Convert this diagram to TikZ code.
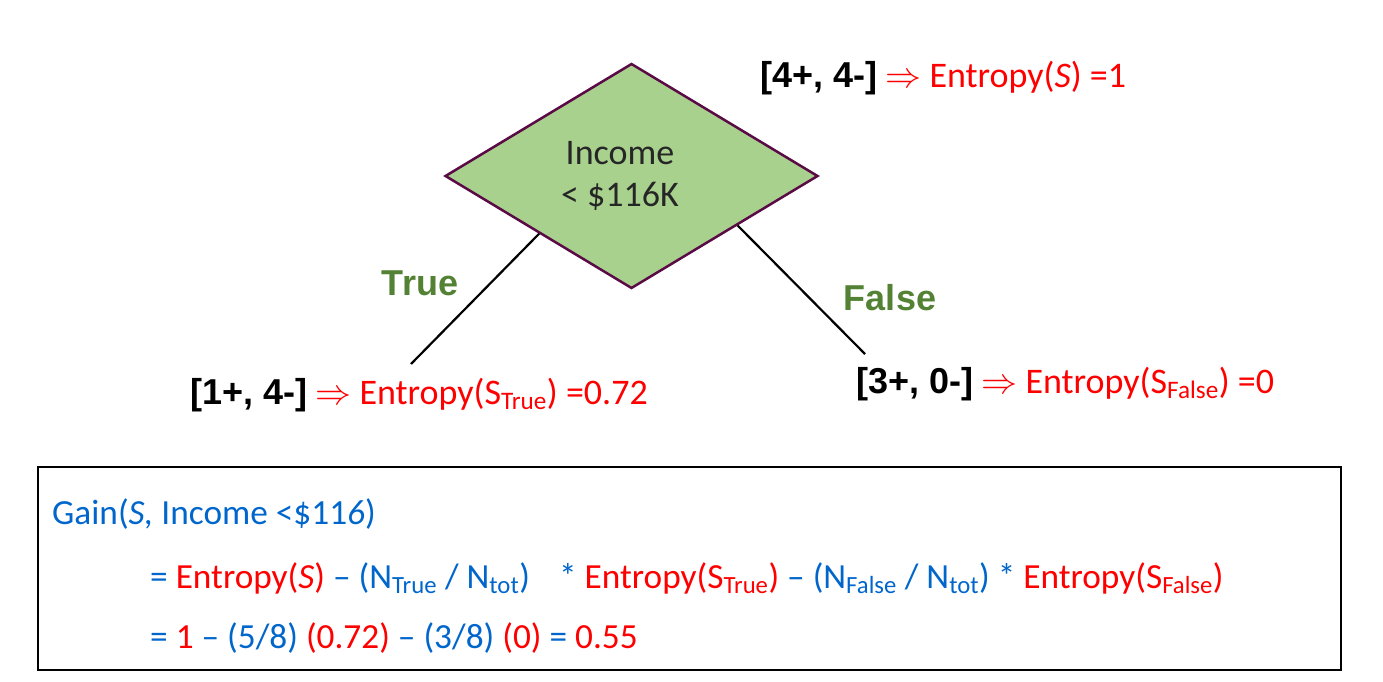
\documentclass[tikz,border=0pt]{standalone}
\usepackage{fix-cm}
\usepackage{fontspec}
\setmainfont{Carlito}
\newfontfamily\arialfont{Liberation Sans}
\usetikzlibrary{shapes.geometric}
\definecolor{diafill}{HTML}{A9D18E}
\definecolor{diaedge}{HTML}{5A0A45}
\definecolor{branchgreen}{HTML}{548235}
\definecolor{formblue}{HTML}{0066CC}
\definecolor{textgray}{HTML}{262626}
\newcommand{\labelsize}{\fontsize{36}{42}\selectfont}
\newcommand{\formsize}{\fontsize{35.3}{42}\selectfont}
\newcommand{\cnt}[1]{{\arialfont\bfseries #1}}
\newcommand{\impl}{\textcolor{red}{$\Rightarrow$}}
\newcommand{\rd}[1]{\textcolor{red}{#1}}
\tikzset{
  label text/.style={anchor=base west, inner sep=0pt, font=\labelsize},
  branch/.style={font=\arialfont\bfseries\labelsize, text=branchgreen, inner sep=0pt},
  formula/.style={anchor=base west, inner sep=0pt, font=\formsize, text=formblue}
}
\begin{document}
\begin{tikzpicture}[x=1pt,y=-1pt]
    \useasboundingbox (0,0) rectangle (1383,682);
    % decision node
    \node[diamond, draw=diaedge, line width=2.5pt, fill=diafill, minimum width=373pt,
          minimum height=225pt, aspect=1.66, inner sep=0pt] (cond) at (631.5,176) {};
    \node[align=center, text=textgray, font=\labelsize, inner sep=0pt] (condtext) at (620,176) {Income\\< \$116K};
    \node[label text] (root) at (760,88) {\cnt{[4+, 4-]} \impl\ \rd{Entropy(\textit{S}) =1}};
    % branches
    \coordinate (tend) at (411,364);
    \coordinate (fend) at (865,354);
    \draw[line width=2.2pt] (cond.-148) -- (tend);
    \draw[line width=2.2pt] (cond.-25) -- (fend);
    \node[branch] (tlab) at (420,283) {True};
    \node[branch] (flab) at (890,298) {False};
    \node[label text] (tleaf) at (190,404) {\cnt{[1+, 4-]} \impl\ \rd{Entropy(S\textsubscript{True}) =0.72}};
    \node[label text] (fleaf) at (856,393) {\cnt{[3+, 0-]} \impl\ \rd{Entropy(S\textsubscript{False}) =0}};
    % gain box
    \node[draw, line width=2pt, minimum width=1303pt, minimum height=203pt, inner sep=0pt] (gainbox) at (689.5,568.5) {};
    \node[formula] (g1) at (52,524) {Gain(\textit{S,} Income <\$11\textit{6})};
    \node[formula] (g2) at (150,588) {= \rd{Entropy(\textit{S})} -- (N\textsubscript{True} / N\textsubscript{tot})\hspace{0.6em} * \rd{Entropy(S\textsubscript{True})} -- (N\textsubscript{False} / N\textsubscript{tot}) * \rd{Entropy(S\textsubscript{False})}};
    \node[formula] (g3) at (150,648) {= \rd{1} -- (5/8) \rd{(0.72)} -- (3/8) \rd{(0)} = \rd{0.55}};
\end{tikzpicture}
\end{document}
